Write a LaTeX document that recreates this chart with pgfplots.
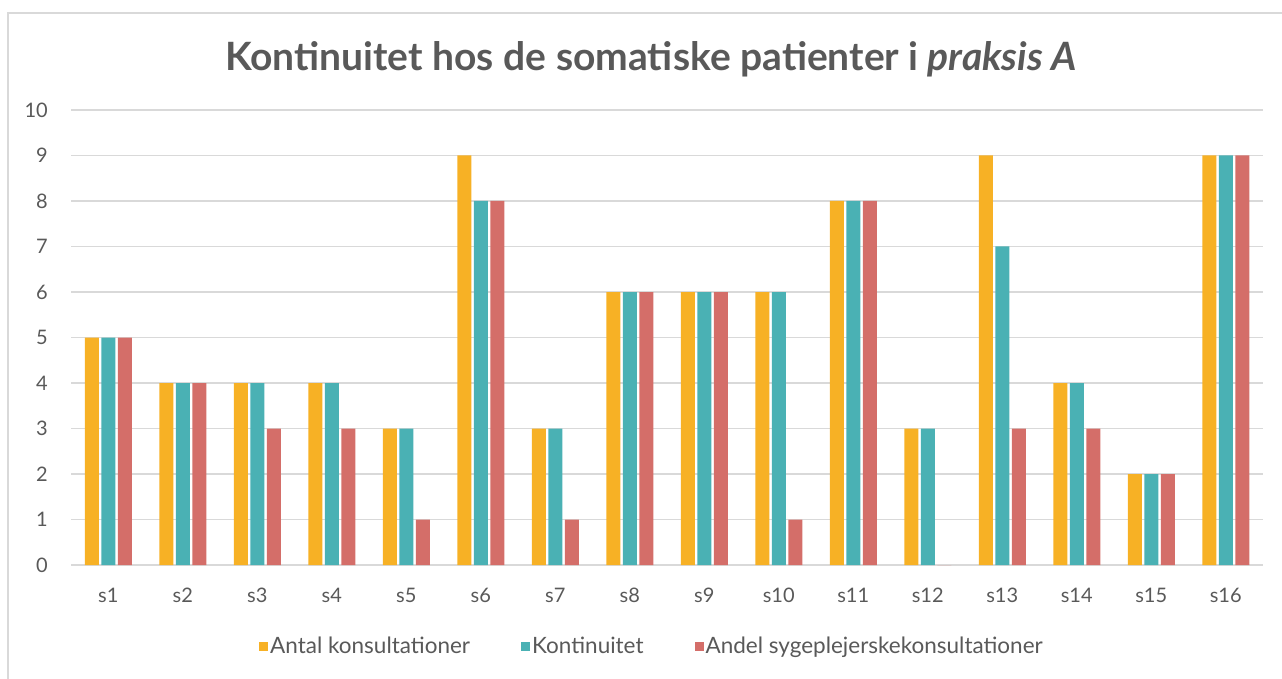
\documentclass[border=0pt]{standalone}
\usepackage{pgfplots}
\pgfplotsset{compat=1.18}
\usepackage{fontspec}
\setmainfont{Lato}
\definecolor{cA}{HTML}{F7B125}
\definecolor{cB}{HTML}{4AB1B4}
\definecolor{cC}{HTML}{D46E69}
\definecolor{txt}{HTML}{595959}
\definecolor{gridc}{HTML}{D9D9D9}
\begin{document}
\begin{tikzpicture}
\useasboundingbox (0,0) rectangle (1282pt,678pt);
\draw[color=gridc, line width=1.3pt] (8pt,-5pt) -- (8pt,665pt) -- (1290pt,665pt);
\node[anchor=base, inner sep=0pt, font=\fontsize{39}{44}\selectfont\bfseries, text=txt] at (651pt,607pt) {Kontinuitet hos de somatiske patienter i \textit{praksis A}};
\begin{axis}[at={(71pt,113pt)}, anchor=south west, scale only axis,
  width=1192pt, height=455pt,
  ybar=2.5pt, bar width=14pt,
  xmin=0.5, xmax=16.5, ymin=0, ymax=10,
  ytick={0,1,...,10},
  xtick={1,...,16},
  xticklabels={s1,s2,s3,s4,s5,s6,s7,s8,s9,s10,s11,s12,s13,s14,s15,s16},
  axis x line*=bottom, axis y line*=left,
  x axis line style={draw=gridc, line width=1.3pt, -},
  y axis line style={draw=none},
  major tick length=0pt, tick style={draw=none},
  ymajorgrids, grid style={draw=gridc, line width=1.3pt},
  ticklabel style={font=\fontsize{20}{24}\selectfont, text=txt, inner sep=0pt},
  yticklabel style={anchor=east, xshift=-23pt},
  xticklabel style={anchor=north, yshift=-23pt},
  /pgf/number format/assume math mode=true,
  legend columns=3,
  legend style={at={(0.5,0)}, anchor=center, xshift=-15pt, yshift=-81pt,
    draw=none, fill=none, font=\fontsize{22.5}{26}\selectfont, text=txt,
    /tikz/every even column/.append style={column sep=49pt},
    nodes={inner sep=2pt}},
  legend image code/.code={\fill[#1] (0pt,-5pt) rectangle (9pt,4pt);},
]
\addplot[fill=cA, draw=none] coordinates {(1,5) (2,4) (3,4) (4,4) (5,3) (6,9) (7,3) (8,6) (9,6) (10,6) (11,8) (12,3) (13,9) (14,4) (15,2) (16,9)};
\addplot[fill=cB, draw=none] coordinates {(1,5) (2,4) (3,4) (4,4) (5,3) (6,8) (7,3) (8,6) (9,6) (10,6) (11,8) (12,3) (13,7) (14,4) (15,2) (16,9)};
\addplot[fill=cC, draw=none] coordinates {(1,5) (2,4) (3,3) (4,3) (5,1) (6,8) (7,1) (8,6) (9,6) (10,1) (11,8) (12,0) (13,3) (14,3) (15,2) (16,9)};
\legend{Antal konsultationer, Kontinuitet, Andel sygeplejerskekonsultationer}
\end{axis}
\end{tikzpicture}
\end{document}
